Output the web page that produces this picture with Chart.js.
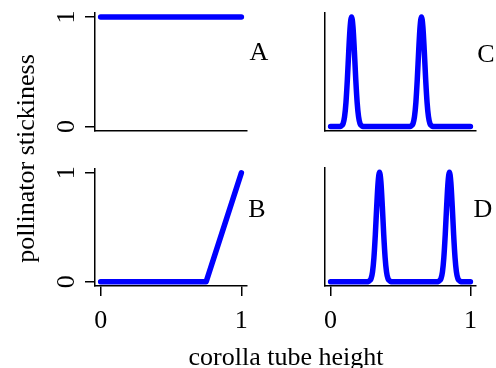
<!DOCTYPE html>
<html>
<head>
<meta charset="utf-8">
<script src="https://cdn.jsdelivr.net/npm/chart.js@4"></script>
<style>
  body { margin: 0; background: #fff; }
  #wrap { position: relative; width: 496px; height: 368px; }
  #wrap canvas { position: absolute; left: 0; top: 0; }
</style>
</head>
<body>
<div id="wrap">
  <canvas id="panelA" width="496" height="368"></canvas>
  <canvas id="panelB" width="496" height="368"></canvas>
  <canvas id="panelC" width="496" height="368"></canvas>
  <canvas id="panelD" width="496" height="368"></canvas>
</div>
<script>
// values (x = corolla tube height, y = stickiness)
const aX = [0, 1];
const aY = [1, 1];
const bX = [0, 0.75, 1];
const bY = [0, 0, 1];
const cX = [0, 0.07, 0.08, 0.09, 0.10, 0.11, 0.12, 0.13, 0.14, 0.15, 0.16, 0.17, 0.18, 0.19, 0.20, 0.21, 0.22, 0.23,
            0.57, 0.58, 0.59, 0.60, 0.61, 0.62, 0.63, 0.64, 0.65, 0.66, 0.67, 0.68, 0.69, 0.70, 0.71, 0.72, 0.73, 1];
const cY = [0, 0, 0.01, 0.03, 0.09, 0.22, 0.43, 0.69, 0.91, 1, 0.91, 0.69, 0.43, 0.22, 0.09, 0.03, 0.01, 0,
            0, 0.01, 0.03, 0.09, 0.22, 0.43, 0.69, 0.91, 1, 0.91, 0.69, 0.43, 0.22, 0.09, 0.03, 0.01, 0, 0];
const dX = [0, 0.27, 0.28, 0.29, 0.30, 0.31, 0.32, 0.33, 0.34, 0.35, 0.36, 0.37, 0.38, 0.39, 0.40, 0.41, 0.42, 0.43,
            0.77, 0.78, 0.79, 0.80, 0.81, 0.82, 0.83, 0.84, 0.85, 0.86, 0.87, 0.88, 0.89, 0.90, 0.91, 0.92, 0.93, 1];
const dY = [0, 0, 0.01, 0.03, 0.09, 0.22, 0.43, 0.69, 0.91, 1, 0.91, 0.69, 0.43, 0.22, 0.09, 0.03, 0.01, 0,
            0, 0.01, 0.03, 0.09, 0.22, 0.43, 0.69, 0.91, 1, 0.91, 0.69, 0.43, 0.22, 0.09, 0.03, 0.01, 0, 0];
const tickValues = [0, 1];
const tickLabels = ['0', '1'];
const xTitle = 'corolla tube height';
const yTitle = 'pollinator stickiness';

const FONT = 'Liberation Serif';
Chart.defaults.font.family = FONT;
Chart.defaults.font.size = 26;
Chart.defaults.color = '#000';

function axis(horizontal, show, size) {
    return {
        type: 'linear',
        min: -0.04,
        max: 1.04,
        afterBuildTicks: s => { s.ticks = tickValues.map(v => ({ value: v })); },
        afterFit: s => {
            if (horizontal) s.height = size; else s.width = size;
            s.paddingLeft = 0; s.paddingRight = 0; s.paddingTop = 0; s.paddingBottom = 0;
        },
        grid: { display: show, drawOnChartArea: false, drawTicks: show, tickLength: 10, color: '#000', lineWidth: 1.5 },
        border: { display: true, color: '#000', width: 1.5 },
        ticks: {
            display: show,
            padding: horizontal ? 25 : 11,
            minRotation: horizontal ? 0 : 90,
            maxRotation: horizontal ? 0 : 90,
            crossAlign: 'center',
            font: { family: FONT, size: 26 },
            callback: (v, i) => tickLabels[i]
        }
    };
}

// shared axis titles and panel letters
const outerText = {
    id: 'outerText',
    afterDraw(chart) {
        const ctx = chart.ctx;
        ctx.save();
        ctx.fillStyle = '#000';
        ctx.font = '26px "' + FONT + '"';
        ctx.textAlign = 'center';
        ctx.textBaseline = 'alphabetic';
        ctx.fillText(xTitle, 286, 365);
        ctx.fillText('A', 259, 60);
        ctx.fillText('B', 257, 217);
        ctx.fillText('C', 486, 62);
        ctx.fillText('D', 483, 217);
        ctx.translate(34, 158.5);
        ctx.rotate(-Math.PI / 2);
        ctx.fillText(yTitle, 0, 0);
        ctx.restore();
    }
};

function makePanel(id, xs, ys, box, showX, showY, smooth, extra) {
    const yw = showY ? 40 : 0;
    const xh = showX ? 45 : 0;
    return new Chart(document.getElementById(id), {
        type: 'line',
        data: {
            datasets: [{
                data: xs.map((x, i) => ({ x: x, y: ys[i] })),
                borderColor: '#0000ff',
                borderWidth: 5.5,
                pointRadius: 0,
                borderCapStyle: 'round',
                borderJoinStyle: 'round',
                cubicInterpolationMode: smooth ? 'monotone' : 'default',
                tension: 0,
                fill: false,
                clip: false
            }]
        },
        options: {
            responsive: false,
            animation: false,
            devicePixelRatio: 1,
            events: [],
            layout: {
                padding: {
                    left: box.left - yw,
                    right: 496 - box.right,
                    top: box.top,
                    bottom: 368 - box.bottom - xh
                }
            },
            plugins: { legend: { display: false }, tooltip: { enabled: false } },
            scales: {
                x: axis(true, showX, xh),
                y: axis(false, showY, yw)
            }
        },
        plugins: extra ? [extra] : []
    });
}

makePanel('panelA', aX, aY, { left: 95, right: 247, top: 12.5, bottom: 131 }, false, true, false, outerText);
makePanel('panelB', bX, bY, { left: 95, right: 247, top: 168.5, bottom: 286 }, true, true, false);
makePanel('panelC', cX, cY, { left: 325, right: 476, top: 12.5, bottom: 131 }, false, false, true);
makePanel('panelD', dX, dY, { left: 325, right: 476, top: 168, bottom: 286 }, true, false, true);
</script>
</body>
</html>
